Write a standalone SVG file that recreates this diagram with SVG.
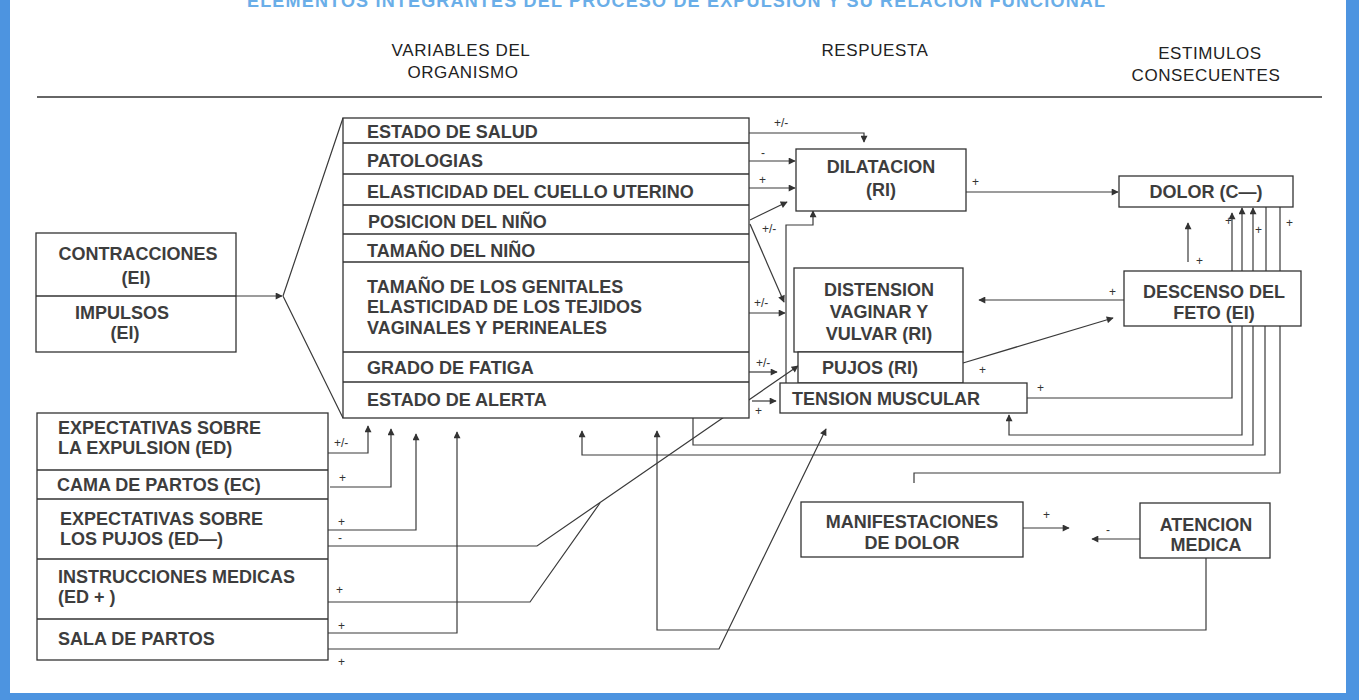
<svg xmlns="http://www.w3.org/2000/svg" width="1359" height="700" viewBox="0 0 1359 700">
<style>
.t{font-family:"Liberation Sans",Arial,sans-serif;font-weight:bold;font-size:18px;fill:#3d3d3d}
.c{text-anchor:middle}
.h{font-family:"Liberation Sans",Arial,sans-serif;font-size:17px;fill:#222;text-anchor:middle;letter-spacing:0.6px}
.l{font-family:"Liberation Sans",Arial,sans-serif;font-size:12px;fill:#333}
.box{fill:#fff;stroke:#333;stroke-width:1.3}
.div{stroke:#333;stroke-width:1.3}
.cn{fill:none;stroke:#3a3a3a;stroke-width:1.2}
.ar{marker-end:url(#ah)}
</style>
<defs>
<marker id="ah" viewBox="0 0 10 10" refX="9" refY="5" markerWidth="8" markerHeight="7" markerUnits="userSpaceOnUse" orient="auto"><path d="M0,0 L10,5 L0,10 z" fill="#333"/></marker>
</defs>
<rect x="0" y="0" width="1359" height="700" fill="#fff"/>
<!-- frame -->
<rect x="0" y="0" width="10" height="700" fill="#4d94e0"/>
<rect x="1346" y="0" width="13" height="700" fill="#4d94e0"/>
<rect x="0" y="693" width="1359" height="7" fill="#4d94e0"/>
<text x="247" y="7" font-family="Liberation Sans, Arial, sans-serif" font-weight="bold" font-size="18" fill="#6aaee8" textLength="858" lengthAdjust="spacing">ELEMENTOS INTEGRANTES DEL PROCESO DE EXPULSION Y SU RELACION FUNCIONAL</text>
<!-- headers -->
<g id="headers">
<text class="h" x="461" y="56">VARIABLES DEL</text>
<text class="h" x="463" y="78">ORGANISMO</text>
<text class="h" x="875" y="56">RESPUESTA</text>
<text class="h" x="1210" y="59">ESTIMULOS</text>
<text class="h" x="1206" y="81">CONSECUENTES</text>
<line x1="37" y1="97" x2="1322" y2="97" stroke="#333" stroke-width="1.5"/>
</g>
<!-- connectors -->
<g id="connectors">
<path class="cn ar" d="M236,296 H282"/>
<path class="cn" d="M283,296 L343,118 M283,296 L343,418"/>
<path class="cn ar" d="M749,133 H864 V142"/>
<path class="cn ar" d="M749,161 H795"/>
<path class="cn ar" d="M749,188 H795"/>
<path class="cn ar" d="M750,220 L787,202"/>
<path class="cn ar" d="M750,224 L784,302"/>
<path class="cn ar" d="M749,313 H785"/>
<path class="cn ar" d="M786,383 V225 H813 V211"/>
<path class="cn ar" d="M749,372 H777"/>
<path class="cn ar" d="M328,546 H537 L798,366"/>
<path class="cn" d="M328,602 H530 L600,503"/>
<path class="cn ar" d="M752,401 H776"/>
<path class="cn ar" d="M966,192 H1118"/>
<path class="cn ar" d="M1124,300 H979"/>
<path class="cn ar" d="M963,363 L1113,318"/>
<path class="cn ar" d="M1188,262 V223"/>
<path class="cn ar" d="M1232,271 V213"/>
<path class="cn ar" d="M1242,271 V208"/>
<path class="cn ar" d="M1253,271 V208"/>
<path class="cn" d="M1266,207 V271 M1280,207 V271"/>
<path class="cn" d="M1027,398 H1232 V326"/>
<path class="cn ar" d="M1242,326 V435 H1009 V415"/>
<path class="cn" d="M693,418 V445 H1253 V326"/>
<path class="cn ar" d="M1265,326 V455 H582 V431"/>
<path class="cn" d="M1280,326 V473 H914 V483"/>
<path class="cn ar" d="M1023,528 H1069"/>
<path class="cn ar" d="M1140,539 H1092"/>
<path class="cn ar" d="M1206,558 V630 H657 V431"/>
<path class="cn ar" d="M328,453 H368 V426"/>
<path class="cn ar" d="M330,487 H391 V429"/>
<path class="cn ar" d="M328,530 H416 V434"/>
<path class="cn ar" d="M328,633 H457 V432"/>
<path class="cn ar" d="M328,649 H719 L826,429"/>
<text class="l" x="774" y="127">+/-</text>
<text class="l" x="761" y="157">-</text>
<text class="l" x="759" y="184">+</text>
<text class="l" x="762" y="233">+/-</text>
<text class="l" x="754" y="307">+/-</text>
<text class="l" x="756" y="367">+/-</text>
<text class="l" x="755" y="415">+</text>
<text class="l" x="972" y="186">+</text>
<text class="l" x="1109" y="296">+</text>
<text class="l" x="979" y="374">+</text>
<text class="l" x="1037" y="392">+</text>
<text class="l" x="1196" y="265">+</text>
<text class="l" x="1225" y="225">+</text>
<text class="l" x="1255" y="234">+</text>
<text class="l" x="1286" y="227">+</text>
<text class="l" x="1043" y="519">+</text>
<text class="l" x="1106" y="534">-</text>
<text class="l" x="334" y="447">+/-</text>
<text class="l" x="339" y="482">+</text>
<text class="l" x="338" y="526">+</text>
<text class="l" x="338" y="542">-</text>
<text class="l" x="336" y="594">+</text>
<text class="l" x="338" y="630">+</text>
<text class="l" x="338" y="666">+</text>
</g>
<!-- nodes -->
<g id="n-estimulos-internos">
<rect class="box" x="36" y="233" width="200" height="119"/>
<line class="div" x1="36" y1="296" x2="236" y2="296"/>
<text class="t c" x="138" y="259.5">CONTRACCIONES</text>
<text class="t c" x="136" y="283.5">(EI)</text>
<text class="t c" x="122" y="318.5">IMPULSOS</text>
<text class="t c" x="125" y="339">(EI)</text>
</g>
<g id="n-variables">
<rect class="box" x="343" y="118" width="406" height="300"/>
<line class="div" x1="343" y1="143" x2="749" y2="143"/>
<line class="div" x1="343" y1="174" x2="749" y2="174"/>
<line class="div" x1="343" y1="205" x2="749" y2="205"/>
<line class="div" x1="343" y1="234" x2="749" y2="234"/>
<line class="div" x1="343" y1="262" x2="749" y2="262"/>
<line class="div" x1="343" y1="352" x2="749" y2="352"/>
<line class="div" x1="343" y1="382" x2="749" y2="382"/>
<text class="t" x="367" y="138">ESTADO DE SALUD</text>
<text class="t" x="367" y="167">PATOLOGIAS</text>
<text class="t" x="367" y="198">ELASTICIDAD DEL CUELLO UTERINO</text>
<text class="t" x="368" y="228">POSICION DEL NIÑO</text>
<text class="t" x="367" y="257">TAMAÑO DEL NIÑO</text>
<text class="t" x="367" y="293">TAMAÑO DE LOS GENITALES</text>
<text class="t" x="367" y="313">ELASTICIDAD DE LOS TEJIDOS</text>
<text class="t" x="367" y="334">VAGINALES Y PERINEALES</text>
<text class="t" x="367" y="374">GRADO DE FATIGA</text>
<text class="t" x="367" y="406">ESTADO DE ALERTA</text>
</g>
<g id="n-dilatacion">
<rect class="box" x="796" y="149" width="170" height="62"/>
<text class="t c" x="881" y="173">DILATACION</text>
<text class="t c" x="881" y="196">(RI)</text>
</g>
<g id="n-dolor">
<rect class="box" x="1119" y="176" width="174" height="31"/>
<text class="t c" x="1206" y="198">DOLOR (C—)</text>
</g>
<g id="n-distension">
<rect class="box" x="794" y="268" width="169" height="84"/>
<text class="t c" x="879" y="296">DISTENSION</text>
<text class="t c" x="879" y="318">VAGINAR Y</text>
<text class="t c" x="879" y="340">VULVAR (RI)</text>
</g>
<g id="n-pujos">
<rect class="box" x="798" y="352" width="165" height="31"/>
<text class="t c" x="870" y="374">PUJOS (RI)</text>
</g>
<g id="n-tension">
<rect class="box" x="780" y="383" width="247" height="30"/>
<text class="t" x="792" y="405">TENSION MUSCULAR</text>
</g>
<g id="n-descenso">
<rect class="box" x="1124" y="271" width="177" height="55"/>
<text class="t c" x="1214" y="298">DESCENSO DEL</text>
<text class="t c" x="1214" y="319">FETO (EI)</text>
</g>
<g id="n-manifestaciones">
<rect class="box" x="801" y="502" width="222" height="55"/>
<text class="t c" x="912" y="528">MANIFESTACIONES</text>
<text class="t c" x="912" y="549">DE DOLOR</text>
</g>
<g id="n-atencion">
<rect class="box" x="1140" y="503" width="130" height="55"/>
<text class="t c" x="1206" y="531">ATENCION</text>
<text class="t c" x="1206" y="551">MEDICA</text>
</g>
<g id="n-estimulos-externos">
<rect class="box" x="37" y="413" width="291" height="247"/>
<line class="div" x1="37" y1="470" x2="328" y2="470"/>
<line class="div" x1="37" y1="499" x2="328" y2="499"/>
<line class="div" x1="37" y1="559" x2="328" y2="559"/>
<line class="div" x1="37" y1="619" x2="328" y2="619"/>
<text class="t" x="58" y="434">EXPECTATIVAS SOBRE</text>
<text class="t" x="58" y="454">LA EXPULSION (ED)</text>
<text class="t" x="57" y="491">CAMA DE PARTOS (EC)</text>
<text class="t" x="60" y="525">EXPECTATIVAS SOBRE</text>
<text class="t" x="60" y="545">LOS PUJOS (ED—)</text>
<text class="t" x="58" y="583">INSTRUCCIONES MEDICAS</text>
<text class="t" x="58" y="603">(ED + )</text>
<text class="t" x="58" y="645">SALA DE PARTOS</text>
</g>
</svg>
